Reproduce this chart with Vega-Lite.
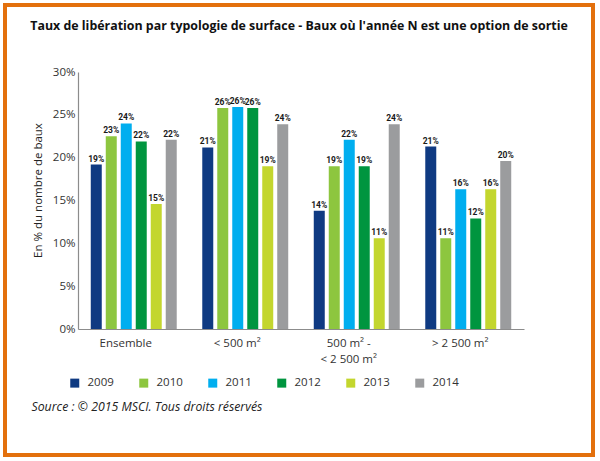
{
  "$schema": "https://vega.github.io/schema/vega-lite/v6.json",
  "width": 588,
  "height": 450,
  "autosize": {"type": "none"},
  "padding": {"left": 5, "top": 5, "right": 7, "bottom": 6},
  "background": "white",
  "title": {
    "text": "Taux de libération par typologie de surface - Baux où l'année N est une option de sortie",
    "font": "Open Sans",
    "fontSize": 12.4,
    "fontWeight": "bold",
    "color": "#111111",
    "anchor": "middle",
    "frame": "group",
    "baseline": "alphabetic",
    "offset": -37
  },
  "data": {
    "values": [
      {"surface": "Ensemble", "year": "2009", "value": 19.2, "label": "19%"},
      {"surface": "Ensemble", "year": "2010", "value": 22.5, "label": "23%"},
      {"surface": "Ensemble", "year": "2011", "value": 24.0, "label": "24%"},
      {"surface": "Ensemble", "year": "2012", "value": 21.9, "label": "22%"},
      {"surface": "Ensemble", "year": "2013", "value": 14.6, "label": "15%"},
      {"surface": "Ensemble", "year": "2014", "value": 22.1, "label": "22%"},
      {"surface": "< 500 m²", "year": "2009", "value": 21.2, "label": "21%"},
      {"surface": "< 500 m²", "year": "2010", "value": 25.8, "label": "26%"},
      {"surface": "< 500 m²", "year": "2011", "value": 25.9, "label": "26%"},
      {"surface": "< 500 m²", "year": "2012", "value": 25.8, "label": "26%"},
      {"surface": "< 500 m²", "year": "2013", "value": 19.0, "label": "19%"},
      {"surface": "< 500 m²", "year": "2014", "value": 23.9, "label": "24%"},
      {"surface": "500 m² - < 2 500 m²", "year": "2009", "value": 13.8, "label": "14%"},
      {"surface": "500 m² - < 2 500 m²", "year": "2010", "value": 19.0, "label": "19%"},
      {"surface": "500 m² - < 2 500 m²", "year": "2011", "value": 22.1, "label": "22%"},
      {"surface": "500 m² - < 2 500 m²", "year": "2012", "value": 19.0, "label": "19%"},
      {"surface": "500 m² - < 2 500 m²", "year": "2013", "value": 10.6, "label": "11%"},
      {"surface": "500 m² - < 2 500 m²", "year": "2014", "value": 23.9, "label": "24%"},
      {"surface": "> 2 500 m²", "year": "2009", "value": 21.3, "label": "21%"},
      {"surface": "> 2 500 m²", "year": "2010", "value": 10.6, "label": "11%"},
      {"surface": "> 2 500 m²", "year": "2011", "value": 16.3, "label": "16%"},
      {"surface": "> 2 500 m²", "year": "2012", "value": 12.9, "label": "12%"},
      {"surface": "> 2 500 m²", "year": "2013", "value": 16.3, "label": "16%"},
      {"surface": "> 2 500 m²", "year": "2014", "value": 19.6, "label": "20%"}
    ]
  },
  "encoding": {
    "x": {
      "field": "surface",
      "type": "nominal",
      "sort": ["Ensemble", "< 500 m²", "500 m² - < 2 500 m²", "> 2 500 m²"],
      "scale": {"range": [73, 519], "paddingInner": 0.229, "paddingOuter": 0.1145},
      "axis": {
        "orient": "bottom",
        "offset": -126,
        "labelAngle": 0,
        "labelExpr": "datum.label == '500 m² - < 2 500 m²' ? ['500 m² -', '< 2 500 m²'] : datum.label",
        "labelLineHeight": 16,
        "labelOffset": -8,
        "labelPadding": 8,
        "labelFont": "Open Sans",
        "labelFontSize": 11.5,
        "labelColor": "#333333",
        "ticks": false,
        "grid": false,
        "domainColor": "#8c8c8c",
        "domainWidth": 1.2,
        "title": "Source : © 2015 MSCI. Tous droits réservés",
        "titleFont": "Open Sans",
        "titleFontSize": 12.3,
        "titleFontStyle": "italic",
        "titleFontWeight": "normal",
        "titleColor": "#222222",
        "titleAlign": "left",
        "titleBaseline": "alphabetic",
        "titleX": 26,
        "titleY": 81
      }
    },
    "xOffset": {
      "field": "year",
      "type": "nominal",
      "scale": {"paddingInner": 0.267, "paddingOuter": 0}
    },
    "y": {
      "field": "value",
      "type": "quantitative",
      "scale": {"domain": [0, 30], "range": [324, 67], "nice": false},
      "axis": {
        "orient": "left",
        "offset": -73,
        "values": [0, 5, 10, 15, 20, 25, 30],
        "labelExpr": "datum.value + '%'",
        "labelFont": "Open Sans",
        "labelFontSize": 11.5,
        "labelColor": "#333333",
        "labelPadding": 3,
        "ticks": false,
        "grid": false,
        "domainColor": "#8c8c8c",
        "domainWidth": 1.2,
        "title": "En % du nombre de baux",
        "titleFont": "Open Sans",
        "titleFontSize": 11.5,
        "titleFontWeight": "normal",
        "titleColor": "#222222",
        "titleBaseline": "alphabetic",
        "titleX": -37,
        "titleY": 185
      }
    }
  },
  "layer": [
    {
      "mark": {"type": "bar"},
      "encoding": {
        "color": {
          "field": "year",
          "type": "nominal",
          "scale": {
            "domain": ["2009", "2010", "2011", "2012", "2013", "2014"],
            "range": ["#0f3a82", "#8dc63f", "#00aeef", "#00953f", "#c3d62e", "#9b9c9e"]
          },
          "legend": {
            "orient": "none",
            "legendX": 64,
            "legendY": 372,
            "direction": "horizontal",
            "columns": 6,
            "title": null,
            "symbolType": "square",
            "symbolSize": 81,
            "symbolStrokeWidth": 0,
            "symbolOpacity": 1,
            "labelOffset": 7,
            "columnPadding": 24,
            "labelFont": "Open Sans",
            "labelFontSize": 11.5,
            "labelColor": "#333333",
            "padding": 0
          }
        }
      }
    },
    {
      "mark": {
        "type": "text",
        "baseline": "alphabetic",
        "dy": -3,
        "font": "Roboto",
        "fontSize": 8.5,
        "fontWeight": "bold",
        "color": "#1a1a1a"
      },
      "encoding": {"text": {"field": "label"}}
    }
  ],
  "config": {
    "view": {"stroke": "#e3700d", "strokeWidth": 4, "fill": "white"}
  }
}
